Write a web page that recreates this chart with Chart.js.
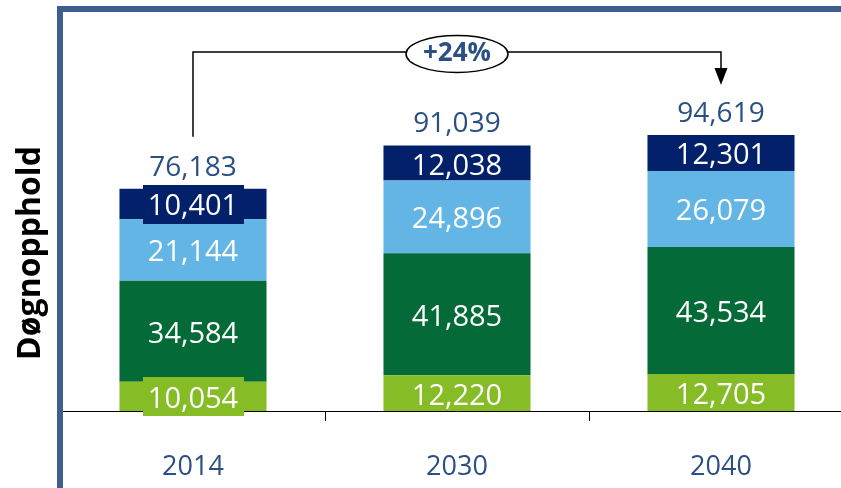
<!DOCTYPE html>
<html>
<head>
<meta charset="utf-8">
<script src="https://cdn.jsdelivr.net/npm/chart.js@4/dist/chart.umd.min.js"></script>
<style>
  html, body { margin: 0; padding: 0; background: #ffffff; overflow: hidden; }
  #wrap { position: absolute; left: 0; top: 0; width: 853px; height: 488px; }
</style>
</head>
<body>
<div id="wrap"><canvas id="c"></canvas></div>
<script>
const categories = ['2014', '2030', '2040'];
const seriesLightGreen = [10054, 12220, 12705];
const seriesDarkGreen = [34584, 41885, 43534];
const seriesLightBlue = [21144, 24896, 26079];
const seriesNavy = [10401, 12038, 12301];
const totals = [76183, 91039, 94619];
const axisTitle = 'Døgnopphold';

const COLORS = ['#86bc25', '#046a38', '#62b5e5', '#03206a'];
const TEXT_BLUE = '#2a5083';
const FONT = '"Open Sans", "DejaVu Sans", sans-serif';

function fmt(v) { return v.toLocaleString('en-US'); }

const overlayPlugin = {
  id: 'overlay',
  afterDatasetsDraw(chart) {
    const ctx = chart.ctx;
    const xs = chart.scales.x, ys = chart.scales.y;
    ctx.save();
    ctx.textAlign = 'center';
    ctx.textBaseline = 'alphabetic';
    // segment labels
    chart.data.datasets.forEach((ds, i) => {
      const meta = chart.getDatasetMeta(i);
      meta.data.forEach((el, j) => {
        const cy = (el.y + el.base) / 2;
        const h = Math.abs(el.base - el.y);
        if (h < 33) {
          ctx.fillStyle = ds.backgroundColor;
          ctx.fillRect(Math.round(el.x - 50.5), Math.round(cy - 19), 101, 39);
        }
        ctx.fillStyle = '#ffffff';
        ctx.font = '29px ' + FONT;
        ctx.fillText(fmt(ds.data[j]), el.x, cy + 11.5);
      });
    });
    // totals
    totals.forEach((t, j) => {
      const x = xs.getPixelForValue(j);
      const y = ys.getPixelForValue(t);
      ctx.fillStyle = TEXT_BLUE;
      ctx.font = '28px ' + FONT;
      ctx.fillText(fmt(t), x, y - 13);
    });
    // growth bracket
    const x0 = xs.getPixelForValue(0);
    const x2 = xs.getPixelForValue(totals.length - 1);
    const yTop0 = ys.getPixelForValue(totals[0]);
    const yTop2 = ys.getPixelForValue(totals[totals.length - 1]);
    const yLine = 52;
    ctx.strokeStyle = '#000';
    ctx.lineWidth = 1.5;
    ctx.beginPath();
    ctx.moveTo(x0, yTop0 - 52);
    ctx.lineTo(x0, yLine);
    ctx.lineTo(x2, yLine);
    ctx.lineTo(x2, yTop2 - 66);
    ctx.stroke();
    ctx.fillStyle = '#000';
    ctx.beginPath();
    ctx.moveTo(x2 - 6.5, yTop2 - 67);
    ctx.lineTo(x2 + 6.5, yTop2 - 67);
    ctx.lineTo(x2, yTop2 - 50);
    ctx.closePath();
    ctx.fill();
    const pct = Math.round((totals[totals.length - 1] / totals[0] - 1) * 100);
    const xm = (x0 + x2) / 2;
    ctx.beginPath();
    ctx.ellipse(xm, 54, 51, 18.5, 0, 0, Math.PI * 2);
    ctx.fillStyle = '#fff';
    ctx.fill();
    ctx.lineWidth = 1.5;
    ctx.stroke();
    ctx.fillStyle = TEXT_BLUE;
    ctx.font = 'bold 26px ' + FONT;
    ctx.fillText('+' + pct + '%', xm, 61);
    ctx.restore();
  },
  afterDraw(chart) {
    const ctx = chart.ctx;
    ctx.save();
    // frame
    ctx.fillStyle = '#3e5f8e';
    ctx.fillRect(57, 6, 6, 482);
    ctx.fillRect(57, 6, 841 - 57, 6);
    // axis title
    ctx.translate(31, 253);
    ctx.rotate(-Math.PI / 2);
    ctx.fillStyle = '#000';
    ctx.font = 'bold 32px ' + FONT;
    ctx.textAlign = 'center';
    ctx.textBaseline = 'middle';
    ctx.fillText(axisTitle, 0, 0);
    ctx.restore();
  }
};

const seriesList = [seriesLightGreen, seriesDarkGreen, seriesLightBlue, seriesNavy];

new Chart(document.getElementById('c'), {
  type: 'bar',
  data: {
    labels: categories,
    datasets: seriesList.map((s, i) => ({
      data: s,
      backgroundColor: COLORS[i],
      borderWidth: 0,
      categoryPercentage: 0.557,
      barPercentage: 1.0
    }))
  },
  options: {
    responsive: true,
    maintainAspectRatio: false,
    animation: false,
    events: [],
    layout: { padding: { left: 61, top: 61, right: 0, bottom: 0 } },
    plugins: { legend: { display: false }, tooltip: { enabled: false } },
    scales: {
      x: {
        stacked: true,
        afterFit(scale) { scale.height = 77; },
        grid: { display: true, drawOnChartArea: false, drawTicks: true, tickLength: 10, color: '#000', lineWidth: 1, offset: true },
        border: { display: true, color: '#000', width: 1 },
        ticks: { color: TEXT_BLUE, font: { family: FONT, size: 27 }, padding: 30 }
      },
      y: {
        stacked: true,
        display: false,
        min: 0,
        max: 120000
      }
    }
  },
  plugins: [overlayPlugin]
});
</script>
</body>
</html>
